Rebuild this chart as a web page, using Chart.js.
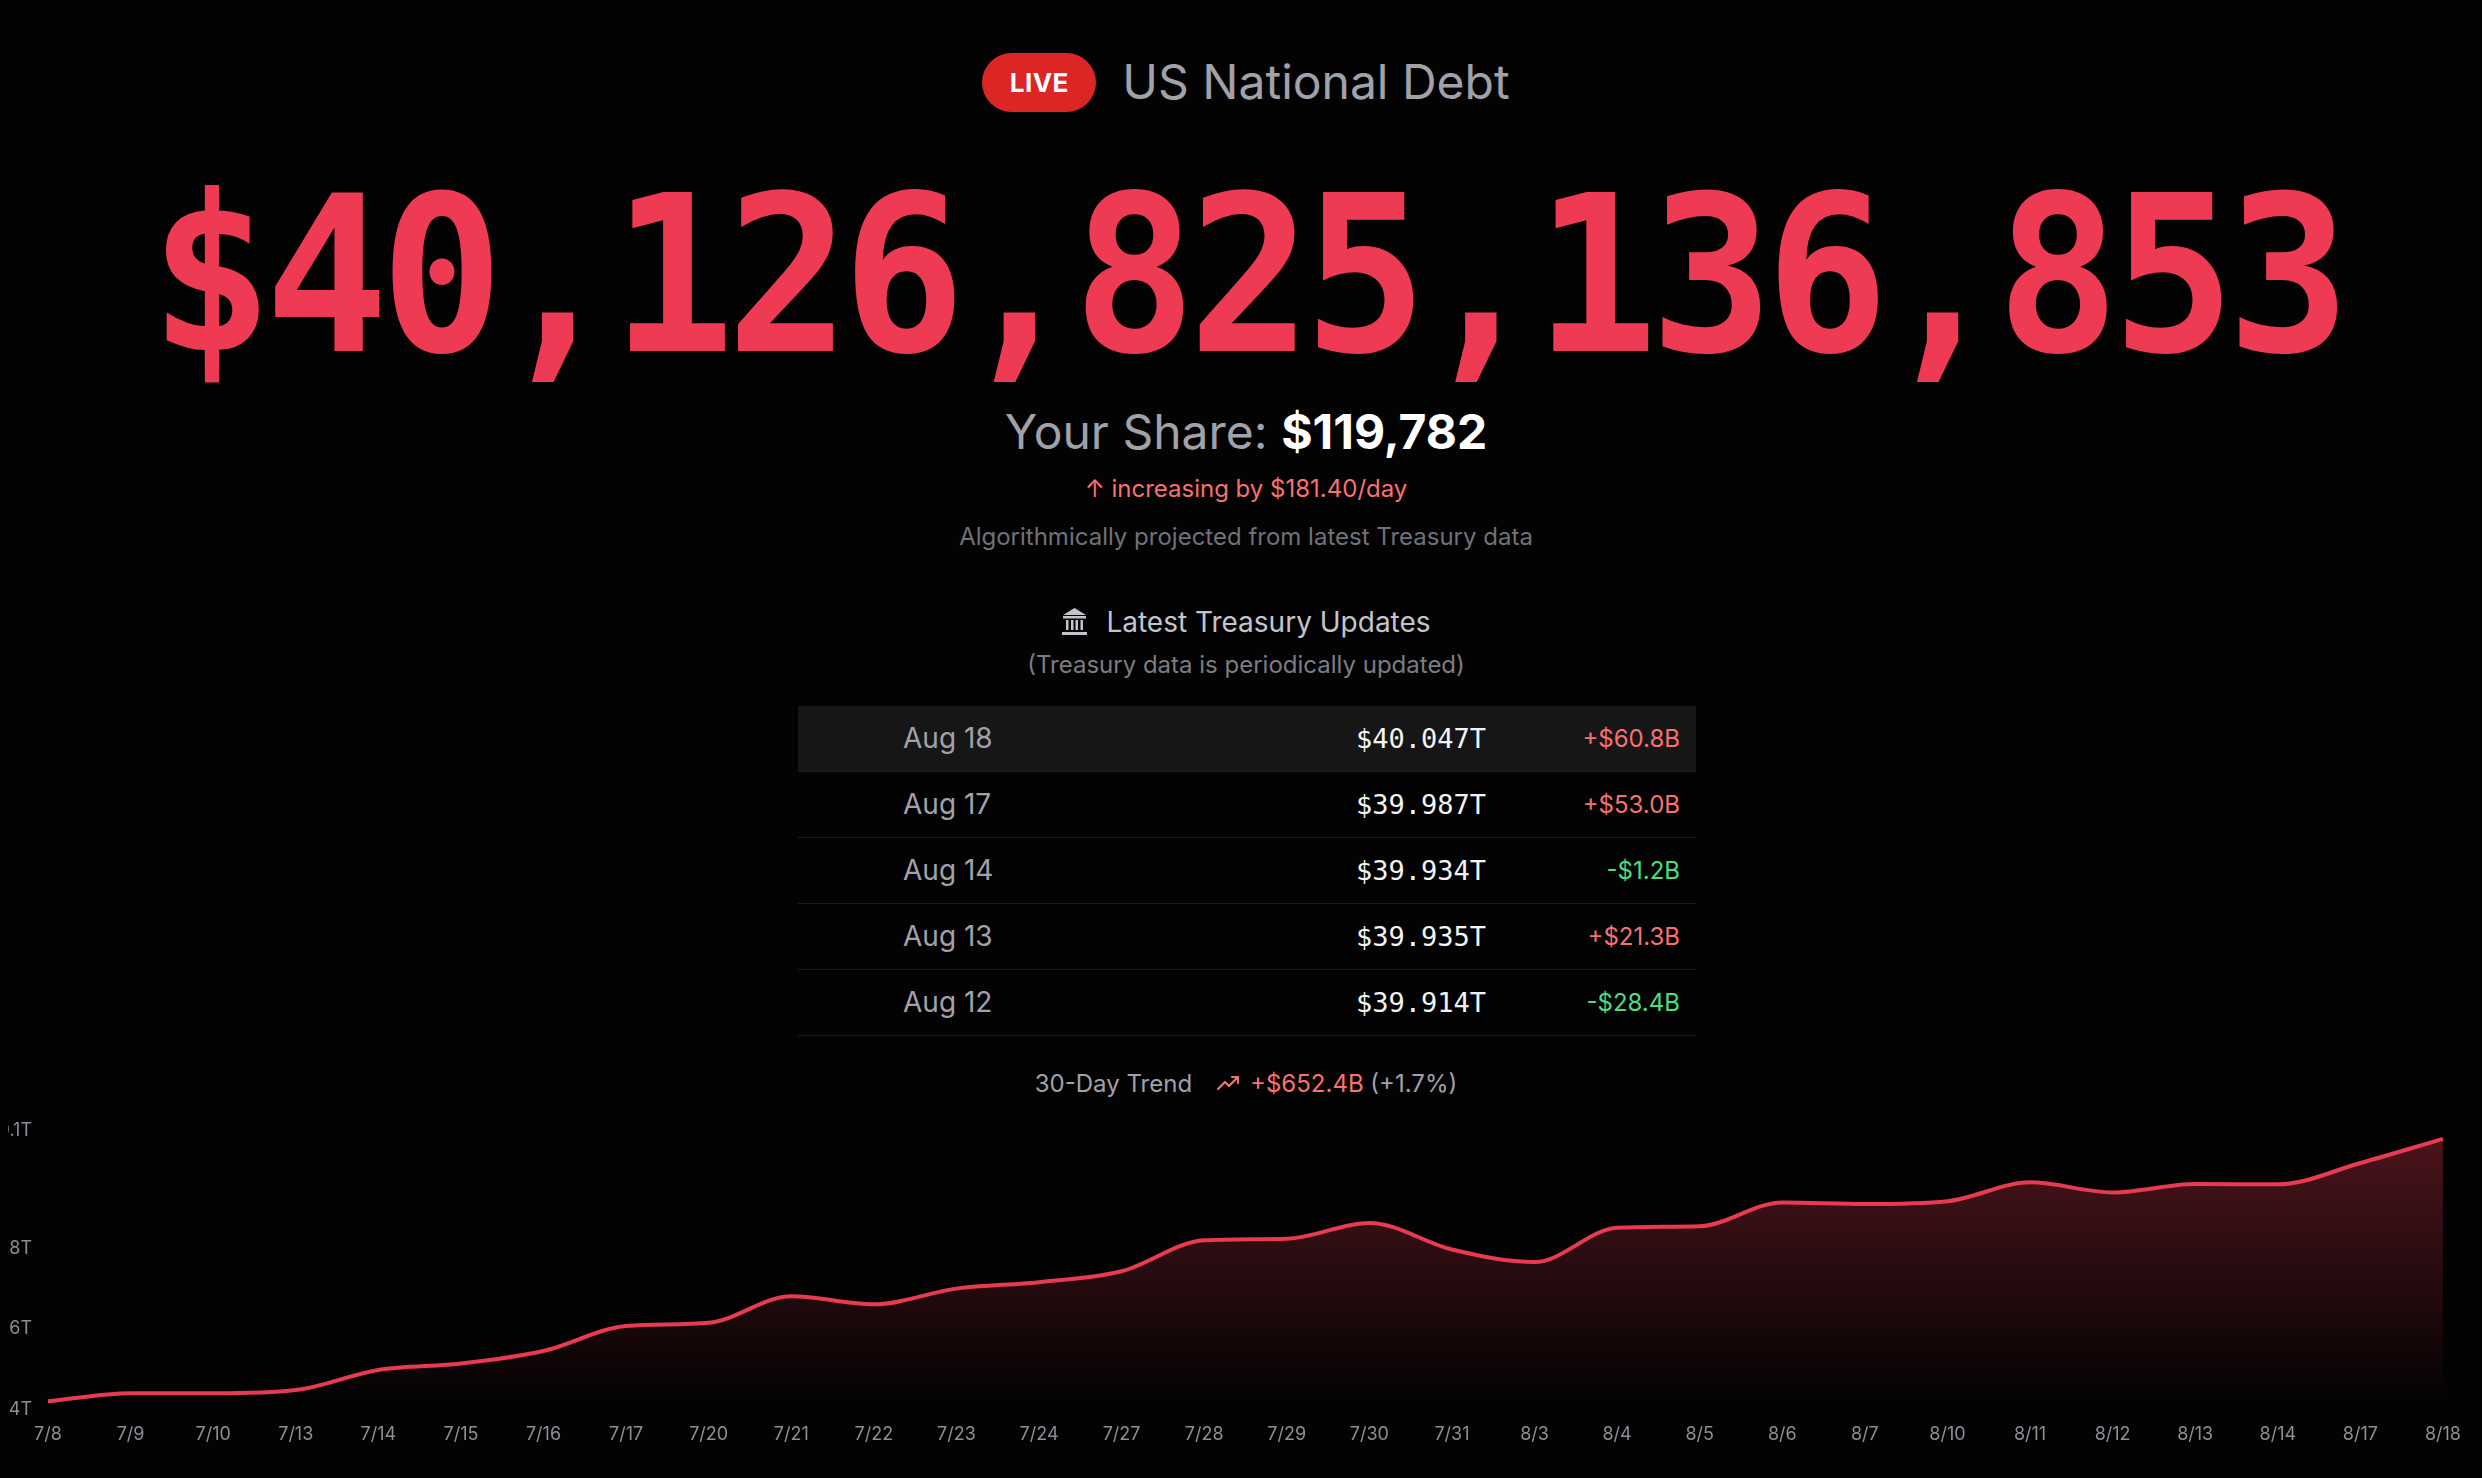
<!DOCTYPE html>
<html>
<head>
<meta charset="utf-8">
<script src="https://cdn.jsdelivr.net/npm/chart.js@4.4.1/dist/chart.umd.min.js"></script>
<style>
    html, body {
        margin: 0;
        padding: 0;
        background: #030303;
        width: 2482px;
        height: 1478px;
        overflow: hidden;
        font-family: "Inter", "Noto Sans", sans-serif;
    }
    .line {
        position: absolute;
        left: 0;
        width: 2492px;
        text-align: center;
        white-space: nowrap;
    }
    #head { top: 52px; height: 60px; display: flex; justify-content: center; align-items: center; gap: 26px; }
    .live {
        background: #dc2626;
        color: #fff;
        font-weight: 700;
        font-size: 26px;
        width: 114px;
        height: 59px;
        border-radius: 30px;
        display: flex;
        align-items: center;
        justify-content: center;
        letter-spacing: 0.5px;
    }
    .title { color: #a1a1aa; font-size: 48px; line-height: 60px; }
    #debt {
        top: 178px;
        font-family: "DejaVu Sans Mono", monospace;
        font-weight: 700;
        font-size: 205px;
        line-height: 205px;
        letter-spacing: -8px;
        color: #ee3a52;
        transform: scaleY(1.06);
        transform-origin: 50% 173px;
    }
    #share { top: 402px; line-height: 60px; font-size: 48px; color: #a1a1aa; }
    #share b { color: #fff; font-weight: 700; }
    #rate { top: 474px; line-height: 30px; font-size: 24px; color: #f87171; }
    #algo { top: 522px; line-height: 30px; font-size: 24px; color: #71717a; }
    #upd { top: 604px; height: 36px; display: flex; justify-content: center; align-items: center; gap: 18px;
           font-size: 28px; color: #c4c4cc; }
    #note { top: 650px; line-height: 30px; font-size: 24px; color: #7c7c84; }
    #table { position: absolute; left: 798px; width: 898px; top: 706px; }
    .row { position: relative; height: 65px; border-bottom: 1.5px solid #1c1c1e; }
    .row.first { background: #161617; }
    .row span { position: absolute; top: 0; line-height: 65px; }
    .d { left: 105px; font-size: 28px; color: #a1a1aa; }
    .v { right: 210px; font-family: "DejaVu Sans Mono", monospace; font-size: 27px; color: #f4f4f5; }
    .c { right: 16px; font-size: 24px; }
    .up { color: #f87171; }
    .down { color: #4ade80; }
    #trend { top: 1066px; height: 34px; display: flex; justify-content: center; align-items: center;
             font-size: 24px; color: #a1a1aa; }
    #chart-clip { position: absolute; left: 8px; top: 1090px; width: 2474px; height: 388px; overflow: hidden; }
    #chart-box { position: absolute; left: -40px; top: 14px; width: 2507px; height: 355px; }
</style>
</head>
<body>
<div class="line" id="head"><div class="live">LIVE</div><div class="title">US National Debt</div></div>
<div class="line" id="debt">$40,126,825,136,853</div>
<div class="line" id="share">Your Share: <b>$119,782</b></div>
<div class="line" id="rate">↑ increasing by $181.40/day</div>
<div class="line" id="algo">Algorithmically projected from latest Treasury data</div>
<div class="line" id="upd">
    <svg width="27" height="30" viewBox="0 0 27 30">
        <path d="M13.5 1 L25 8 L2 8 Z" fill="#c4c4cc"/>
        <rect x="2" y="9" width="23" height="2.5" fill="#c4c4cc"/>
        <rect x="5" y="13" width="2.5" height="10" fill="#c4c4cc"/>
        <rect x="10" y="13" width="2.5" height="10" fill="#c4c4cc"/>
        <rect x="14.5" y="13" width="2.5" height="10" fill="#c4c4cc"/>
        <rect x="19.5" y="13" width="2.5" height="10" fill="#c4c4cc"/>
        <rect x="1" y="25" width="25" height="3" fill="#c4c4cc"/>
    </svg>
    <span>Latest Treasury Updates</span>
</div>
<div class="line" id="note">(Treasury data is periodically updated)</div>
<div id="table"></div>
<div class="line" id="trend">
    <span>30-Day Trend</span>
    <svg width="26" height="20" viewBox="0 0 26 20" style="margin: 0 8px 0 24px">
        <path d="M2 16 L9 9 L13 13 L22 4 M16 4 L22 4 L22 10" stroke="#f87171" stroke-width="2.2" fill="none" stroke-linecap="round" stroke-linejoin="round"/>
    </svg>
    <span style="color:#f87171">+$652.4B</span>&nbsp;<span>(+1.7%)</span>
</div>
<div id="chart-clip"><div id="chart-box"><canvas id="trend-chart"></canvas></div></div>

<script>
// latest treasury updates table
const update_dates = ["Aug 18", "Aug 17", "Aug 14", "Aug 13", "Aug 12"];
const update_totals = ["$40.047T", "$39.987T", "$39.934T", "$39.935T", "$39.914T"];
const update_changes = ["+$60.8B", "+$53.0B", "-$1.2B", "+$21.3B", "-$28.4B"];

// 30 day trend (trillions of dollars)
const trend_dates = ["7/8", "7/9", "7/10", "7/13", "7/14", "7/15", "7/16", "7/17", "7/20", "7/21",
    "7/22", "7/23", "7/24", "7/27", "7/28", "7/29", "7/30", "7/31", "8/3", "8/4",
    "8/5", "8/6", "8/7", "8/10", "8/11", "8/12", "8/13", "8/14", "8/17", "8/18"];
const trend_values = [39.395, 39.415, 39.415, 39.423, 39.473, 39.489, 39.520, 39.582, 39.590, 39.656,
    39.636, 39.675, 39.691, 39.718, 39.795, 39.799, 39.838, 39.772, 39.741, 39.826,
    39.830, 39.889, 39.885, 39.892, 39.939, 39.914, 39.935, 39.934, 39.987, 40.047];
const y_tick_values = [39.375, 39.575, 39.775, 40.067];

const y_min = 39.375;
const y_max = 40.067;

function build_table() {
    let html = "";
    update_dates.forEach((d, i) => {
        let cls = update_changes[i].startsWith("-") ? "down" : "up";
        html += '<div class="row' + (i == 0 ? ' first' : '') + '">' +
            '<span class="d">' + d + '</span>' +
            '<span class="v">' + update_totals[i] + '</span>' +
            '<span class="c ' + cls + '">' + update_changes[i] + '</span></div>';
    });
    document.getElementById("table").innerHTML = html;
}

build_table();

const tick_font = { family: "Inter", size: 18 };

new Chart(document.getElementById("trend-chart"), {
    type: 'line',
    data: {
        labels: trend_dates,
        datasets: [{
            data: trend_values,
            borderColor: '#e83a50',
            borderWidth: 4,
            pointRadius: 0,
            cubicInterpolationMode: 'monotone',
            fill: 'start',
            backgroundColor: (ctx) => {
                const area = ctx.chart.chartArea;
                if (!area) {
                    return 'rgba(232,58,80,0.2)';
                }
                const g = ctx.chart.ctx.createLinearGradient(0, area.top, 0, area.bottom);
                g.addColorStop(0, 'rgba(232,58,80,0.32)');
                g.addColorStop(1, 'rgba(232,58,80,0)');
                return g;
            }
        }]
    },
    options: {
        responsive: true,
        maintainAspectRatio: false,
        animation: false,
        layout: { padding: 0 },
        plugins: {
            legend: { display: false },
            tooltip: { enabled: false }
        },
        scales: {
            x: {
                grid: { display: false, drawTicks: false },
                border: { display: false },
                ticks: {
                    color: '#8e8e96',
                    font: tick_font,
                    padding: 14,
                    maxRotation: 0,
                    autoSkip: false
                }
            },
            y: {
                min: y_min,
                max: y_max,
                grid: { display: false, drawTicks: false },
                border: { display: false },
                afterBuildTicks: (scale) => {
                    scale.ticks = y_tick_values.map((v) => ({ value: v }));
                },
                afterFit: (scale) => {
                    scale.width = 80;
                },
                ticks: {
                    color: '#8e8e96',
                    font: tick_font,
                    padding: 16,
                    callback: (v) => '$' + Number(v).toFixed(1) + 'T'
                }
            }
        }
    }
});
</script>
</body>
</html>
